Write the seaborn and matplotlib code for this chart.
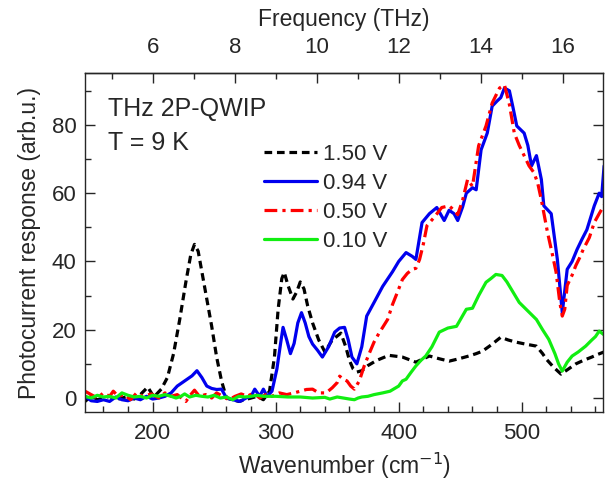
import numpy as np
import pandas as pd
import matplotlib
matplotlib.use("Agg")
import matplotlib.pyplot as plt
import seaborn as sns
from matplotlib.ticker import MultipleLocator, FixedLocator

# Photocurrent spectra of the THz 2P-QWIP at several bias voltages
bias_labels = ["1.50 V", "0.94 V", "0.50 V", "0.10 V"]
freq_ticks = [6, 8, 10, 12, 14, 16]

wn_150 = [145, 150, 155, 160, 165, 170, 175, 180, 185, 190, 196, 201, 207, 212, 217,
          222, 227, 231, 234, 237, 241, 245, 248, 252, 256, 260, 265, 270, 275, 280,
          285, 290, 295, 299, 302, 305, 307, 310, 314, 317, 320, 323, 326, 330, 335,
          340, 346, 353, 357, 360, 363, 366, 370, 375, 382, 392, 403, 414, 425, 433,
          441, 449, 457, 463, 468, 475, 483, 489, 495, 503, 512, 517, 520, 526, 532,
          538, 544, 550, 557, 562, 567]
resp_150 = [-1, 0.5, -0.5, 0, 0.5, -0.5, 0, 0.5, -0.3, 1, 3.2, 0.3, 2.6, 6, 13,
            23, 34, 42, 45, 43, 35, 27, 21, 12, 5, 0, -0.5, -1, -0.5, 0,
            0.5, -0.5, 2, 12, 26, 35, 36.8, 33, 29, 31, 34, 32, 27, 22, 17,
            13.5, 17, 19, 15, 11, 8.5, 7.6, 8, 9.5, 11, 12.5, 12, 10.5, 12.3, 11.5,
            10.8, 11.5, 12.3, 13, 13.7, 15.5, 17.8, 17, 16.4, 15.8, 15.2, 13, 11.4, 9, 7,
            8.5, 10, 11, 12, 12.8, 13.5]

wn_094 = [145, 150, 155, 160, 165, 170, 175, 180, 185, 190, 195, 200, 205, 210, 215,
          220, 224, 228, 232, 236, 240, 244, 248, 252, 256, 260, 265, 271, 276, 280,
          283, 287, 290, 293, 297, 301, 304, 306, 309, 312, 315, 318, 321, 324, 327,
          330, 334, 338, 343, 348, 352, 356, 359, 362, 366, 370, 374, 380, 387, 395,
          400, 406, 411, 414, 419, 425, 431, 437, 441, 445, 448, 452, 455, 460, 463,
          467, 472, 476, 480, 483, 486, 490, 493, 496, 502, 505, 508, 512, 516, 518,
          524, 529, 533, 537, 541, 545, 549, 553, 559, 563, 565, 567]
resp_094 = [0.5, -0.8, -1, -0.5, -1, 0.3, -0.5, -0.8, 0, -0.5, 0.5, -0.3, 0, 0.5, 1.5,
            3.5, 4.5, 5.5, 6.5, 8, 6, 3.5, 2.8, 2.5, 2.6, 0, -0.5, -1, 0, 0.5,
            2.6, 0.5, 2.6, 0.5, 2, 8.5, 16, 20.7, 17, 13, 16, 22, 25, 22, 18,
            15.8, 14, 12, 15, 19.3, 20.5, 20.7, 17, 12, 10, 15, 24, 28, 32.7, 37,
            40, 42.6, 41.5, 40.6, 51.4, 54, 55.8, 52, 55, 54, 52, 56, 60, 61.6, 61,
            72.7, 77.6, 85.5, 87, 88, 90.8, 90, 85, 79.7, 77.6, 74, 68, 71, 64, 56.3,
            54, 40.6, 25, 37.7, 40, 43.5, 46.5, 49.3, 56.3, 60, 59, 68]

wn_050 = [145, 150, 155, 160, 165, 168, 172, 177, 182, 187, 192, 199, 205, 210, 215,
          220, 227, 231, 234, 238, 243, 248, 252, 257, 262, 267, 272, 277, 282, 287,
          292, 297, 303, 309, 315, 320, 325, 330, 335, 341, 346, 350, 352, 355, 358,
          361, 364, 368, 372, 376, 380, 384, 387, 391, 395, 399, 403, 407, 411, 414,
          417, 420, 423, 429, 435, 441, 445, 448, 452, 456, 460, 465, 471, 476, 482,
          486, 490, 494, 498, 502, 506, 510, 513, 516, 521, 525, 528, 531, 533, 535,
          537, 541, 544, 547, 550, 555, 559, 563, 567]
resp_050 = [2, 1, 0, 1.5, 0.5, 2, 0.5, 1, -0.5, 1.5, 0.5, 1.2, 0, 1.5, 0.5,
            1, -1, 1, 2.3, 0.5, 1, 0, 1.5, 0.5, -0.5, 0.5, 1.2, 0.5, 1.5, 0,
            1, 0.5, 1.5, 1, 1.5, 2, 2.5, 2.6, 1.5, 1.5, 3, 4.5, 6.4, 5.5, 5,
            3.5, 2.6, 5, 9.4, 13, 16.4, 19, 20.7, 23, 27.4, 31, 34.7, 36.5, 37.7, 38,
            40.6, 45, 50.5, 53, 55.8, 56.3, 55, 53.7, 58, 64, 62, 73.9, 79.7, 86.4, 90.8,
            91.7, 86, 77.6, 74, 71, 68, 66, 63, 58, 48.5, 42, 36.8, 28, 24, 26,
            33, 36, 38.8, 41, 43.5, 47, 51.4, 54, 56.5]

wn_010 = [145, 150, 155, 160, 165, 170, 175, 180, 185, 190, 195, 200, 205, 210, 215,
          219, 223, 226, 230, 235, 240, 245, 250, 255, 260, 265, 270, 275, 280, 285,
          290, 295, 300, 310, 320, 330, 340, 344, 350, 355, 360, 364, 367, 370, 375,
          380, 387, 393, 400, 403, 406, 410, 414, 418, 422, 427, 433, 440, 447, 451,
          455, 460, 465, 471, 475, 479, 484, 488, 493, 498, 505, 512, 517, 522, 527,
          530, 533, 537, 541, 546, 552, 557, 560, 563, 567]
resp_010 = [0.5, 0, 0.8, 0.3, 0.5, 0, 1.5, 0.8, 0.3, 0.5, 0, 0.8, 0.5, 1, 0.5,
            0, 0.5, 1.2, 0.3, 0.8, 0.5, 0.3, 0.8, 0, 0.3, -0.5, 0.5, 0.3, 0.5, 0.8,
            0.5, 0.5, 0.5, 0.3, 0.3, 0, 0.2, -0.3, 0.3, 0, -0.3, -0.5, 0, 0.3, 0.5,
            1, 1.5, 2, 3.5, 5, 5.5, 7.5, 9.4, 11, 12.3, 15, 19.3, 20.5, 21, 23.5,
            26, 26.3, 30, 33.9, 35, 36.2, 35.9, 34, 31, 28, 25.5, 23, 20, 17.2, 13,
            10, 7.9, 10.5, 12.3, 13.5, 15.2, 17, 18, 19.6, 18.5]

series_x = [wn_150, wn_094, wn_050, wn_010]
series_y = [resp_150, resp_094, resp_050, resp_010]

frames = [pd.DataFrame({"wavenumber": x, "response": y, "bias": lab})
          for x, y, lab in zip(series_x, series_y, bias_labels)]
df = pd.concat(frames, ignore_index=True)

palette = {"1.50 V": "black", "0.94 V": "#0000ee", "0.50 V": "#ff0000", "0.10 V": "#11ee11"}
dashes = {"1.50 V": (2.4, 1.5), "0.94 V": "", "0.50 V": (4.0, 1.6, 1.0, 1.6), "0.10 V": ""}

sns.set_style("ticks")
plt.rcParams['font.family'] = ['Liberation Sans', 'DejaVu Sans']
plt.rcParams['axes.linewidth'] = 1.0

fig = plt.figure(figsize=(6.05, 4.82), dpi=100)
ax = fig.add_axes([0.1405, 0.1452, 0.857, 0.7033])

sns.lineplot(data=df, x="wavenumber", y="response", hue="bias", style="bias",
             hue_order=bias_labels, style_order=bias_labels,
             palette=palette, dashes=dashes, estimator=None, sort=True,
             linewidth=2.3, legend=False, ax=ax)

ax.set_xlim(145, 566.5)
ax.set_ylim(-4.1, 95.2)
ax.xaxis.set_major_locator(MultipleLocator(100))
ax.xaxis.set_minor_locator(MultipleLocator(20))
ax.yaxis.set_major_locator(MultipleLocator(20))
ax.yaxis.set_minor_locator(MultipleLocator(10))
ax.tick_params(which="both", direction="in", right=True, top=False, width=1.0,
               labelsize=16)
ax.tick_params(which="major", length=7)
ax.tick_params(which="minor", length=4)
ax.tick_params(axis="x", pad=8)
ax.tick_params(axis="y", pad=6)

ax.set_xlabel("Wavenumber (cm$^{-1}$)", fontsize=16.5, labelpad=5)
ax.set_ylabel("Photocurrent response (arb.u.)", fontsize=16.5, labelpad=8)

# Frequency scale on the top axis (1 THz = 33.356 cm^-1)
sec = ax.secondary_xaxis("top", functions=(lambda w: w / 33.356, lambda f: f * 33.356))
sec.xaxis.set_major_locator(FixedLocator(freq_ticks))
sec.xaxis.set_minor_locator(FixedLocator(list(range(5, 17))))
sec.tick_params(which="both", direction="in", width=1.0, labelsize=16, pad=11)
sec.tick_params(which="major", length=7)
sec.tick_params(which="minor", length=4)
sec.set_xlabel("Frequency (THz)", fontsize=16.5, labelpad=8)

ax.text(0.044, 0.93, "THz 2P-QWIP", transform=ax.transAxes, fontsize=18,
        va="top", ha="left")
ax.text(0.044, 0.83, "T = 9 K", transform=ax.transAxes, fontsize=18,
        va="top", ha="left")

ax.legend(ax.lines[:4], bias_labels, loc="upper left", bbox_to_anchor=(0.345, 0.79),
          frameon=False, fontsize=16, handlelength=2.4, handletextpad=0.25,
          labelspacing=0.36, borderpad=0, borderaxespad=0)

fig.savefig("out.png", dpi=100)
